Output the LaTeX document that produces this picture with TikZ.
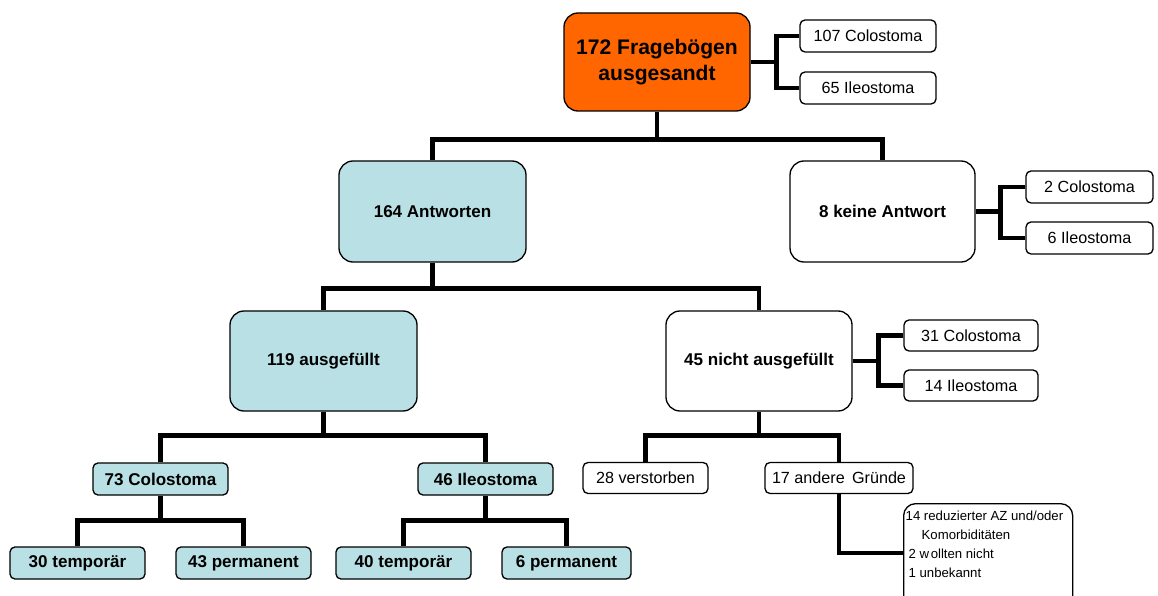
\documentclass[tikz,border=0pt]{standalone}
\usepackage{fontspec}
\setmainfont{Liberation Sans}
\usepackage{xcolor}
\definecolor{sendorange}{HTML}{FF6600}
\definecolor{answerblue}{HTML}{B9E0E4}

\begin{document}
\begin{tikzpicture}[x=0.2mm, y=-0.2mm,
    bigbox/.style={draw=black, line width=0.75pt, rounded corners=2.8mm,
        font=\bfseries\fontsize{9.7}{11.5}\selectfont, align=center, inner sep=0pt},
    smallbox/.style={draw=black, line width=0.75pt, rounded corners=1mm, fill=white,
        font=\fontsize{9.2}{11}\selectfont, inner sep=0pt, minimum height=6.4mm},
    leafbox/.style={smallbox, fill=answerblue, font=\bfseries\fontsize{9.7}{11}\selectfont},
    conn/.style={line width=2.5pt}]
                % Fix the page size
                \useasboundingbox (0,0) rectangle (1158,596);

                % Top level
                \node[bigbox, fill=sendorange, minimum width=37.2mm, minimum height=19.6mm,
                    font=\bfseries\fontsize{12}{15}\selectfont] (top) at (657,62)
                    {172 Fragebögen\\ausgesandt};
                \node[smallbox, minimum width=27.2mm] (col107) at (868,36) {107 Colostoma};
                \node[smallbox, minimum width=27.2mm] (ile65) at (868,88) {65 Ileostoma};

                % Second level
                \node[bigbox, fill=answerblue, minimum width=37.4mm, minimum height=20.2mm] (antw) at (432.5,211.5) {164 Antworten};
                \node[bigbox, fill=white, minimum width=37mm, minimum height=20.2mm] (keine) at (882.5,211.5) {8 keine Antwort};
                \node[smallbox, minimum width=25.4mm] (col2) at (1089.5,187) {2 Colostoma};
                \node[smallbox, minimum width=25.4mm] (ile6) at (1089.5,238) {6 Ileostoma};

                % Third level
                \node[bigbox, fill=answerblue, minimum width=37.4mm, minimum height=20mm] (ausg) at (323.5,361) {119 ausgefüllt};
                \node[bigbox, fill=white, minimum width=37.2mm, minimum height=20mm] (nicht) at (759,361) {45 nicht ausgefüllt};
                \node[smallbox, minimum width=26.8mm, minimum height=6.2mm] (col31) at (971,335.5) {31 Colostoma};
                \node[smallbox, minimum width=26.8mm, minimum height=6.2mm] (ile14) at (971,385.5) {14 Ileostoma};

                % Fourth level
                \node[leafbox, minimum width=27mm] (col73) at (160.5,479) {73 Colostoma};
                \node[leafbox, minimum width=27mm] (ile46) at (485.5,479) {46 Ileostoma};
                \node[smallbox, minimum width=25mm, minimum height=6.2mm] (verst) at (645.5,478) {28 verstorben};
                \node[smallbox, minimum width=29.6mm, minimum height=6.2mm] (andere) at (839,478) {17 andere\hspace{0.45em}Gründe};

                % Bottom level
                \node[leafbox, minimum width=27mm] (temp30) at (77.5,563) {30 temporär};
                \node[leafbox, minimum width=27mm] (perm43) at (243.5,563) {43 permanent};
                \node[leafbox, minimum width=27mm] (temp40) at (403.5,563) {40 temporär};
                \node[leafbox, minimum width=25.8mm] (perm6) at (566.5,563) {6 permanent};
                \node[smallbox, anchor=north west, rounded corners=2.4mm,
                    font=\fontsize{7.5}{10.8}\selectfont, inner xsep=0.4mm, inner ysep=0pt] (gruende) at (903,503)
                    {\parbox[c][21mm][t]{33mm}{\raggedright\vspace*{1.4mm}%
                     14 reduzierter AZ und/oder\\
                     \hspace*{3.2mm}Komorbiditäten\\
                     \hspace*{0.6mm}2 w\hspace{0.12em}ollten nicht\\
                     \hspace*{0.6mm}1 unbekannt}};

                % Connectors of the tree
                \draw[conn] (top.south) -- ++(0,28) coordinate (j1);
                \draw[conn] (j1) -| (antw.north);
                \draw[conn] (j1) -| (keine.north);
                \draw[conn] (antw.south) -- ++(0,26) coordinate (j2);
                \draw[conn] (j2) -| (ausg.north);
                \draw[conn] (j2) -| (nicht.north);
                \draw[conn] (ausg.south) -- ++(0,24) coordinate (j3);
                \draw[conn] (j3) -| (col73.north);
                \draw[conn] (j3) -| (ile46.north);
                \draw[conn] (nicht.south) -- ++(0,24) coordinate (j4);
                \draw[conn] (j4) -| (verst.north);
                \draw[conn] (j4) -| (andere.north);
                \draw[conn] (col73.south) -- ++(0,25) coordinate (j5);
                \draw[conn] (j5) -| (temp30.north);
                \draw[conn] (j5) -| (perm43.north);
                \draw[conn] (ile46.south) -- ++(0,25) coordinate (j6);
                \draw[conn] (j6) -| (temp40.north);
                \draw[conn] (j6) -| (perm6.north);
                \draw[conn] (andere.south) |- (gruende.west |- 0,553);

                % Side branches
                \draw[conn] (top.east) -- ++(26,0) coordinate (s1);
                \draw[conn] (s1) |- (col107.west);
                \draw[conn] (s1) |- (ile65.west);
                \draw[conn] (keine.east) -- ++(25,0) coordinate (s2);
                \draw[conn] (s2) |- (col2.west);
                \draw[conn] (s2) |- (ile6.west);
                \draw[conn] (nicht.east) -- ++(26,0) coordinate (s3);
                \draw[conn] (s3) |- (col31.west);
                \draw[conn] (s3) |- (ile14.west);
            \end{tikzpicture}
\end{document}
